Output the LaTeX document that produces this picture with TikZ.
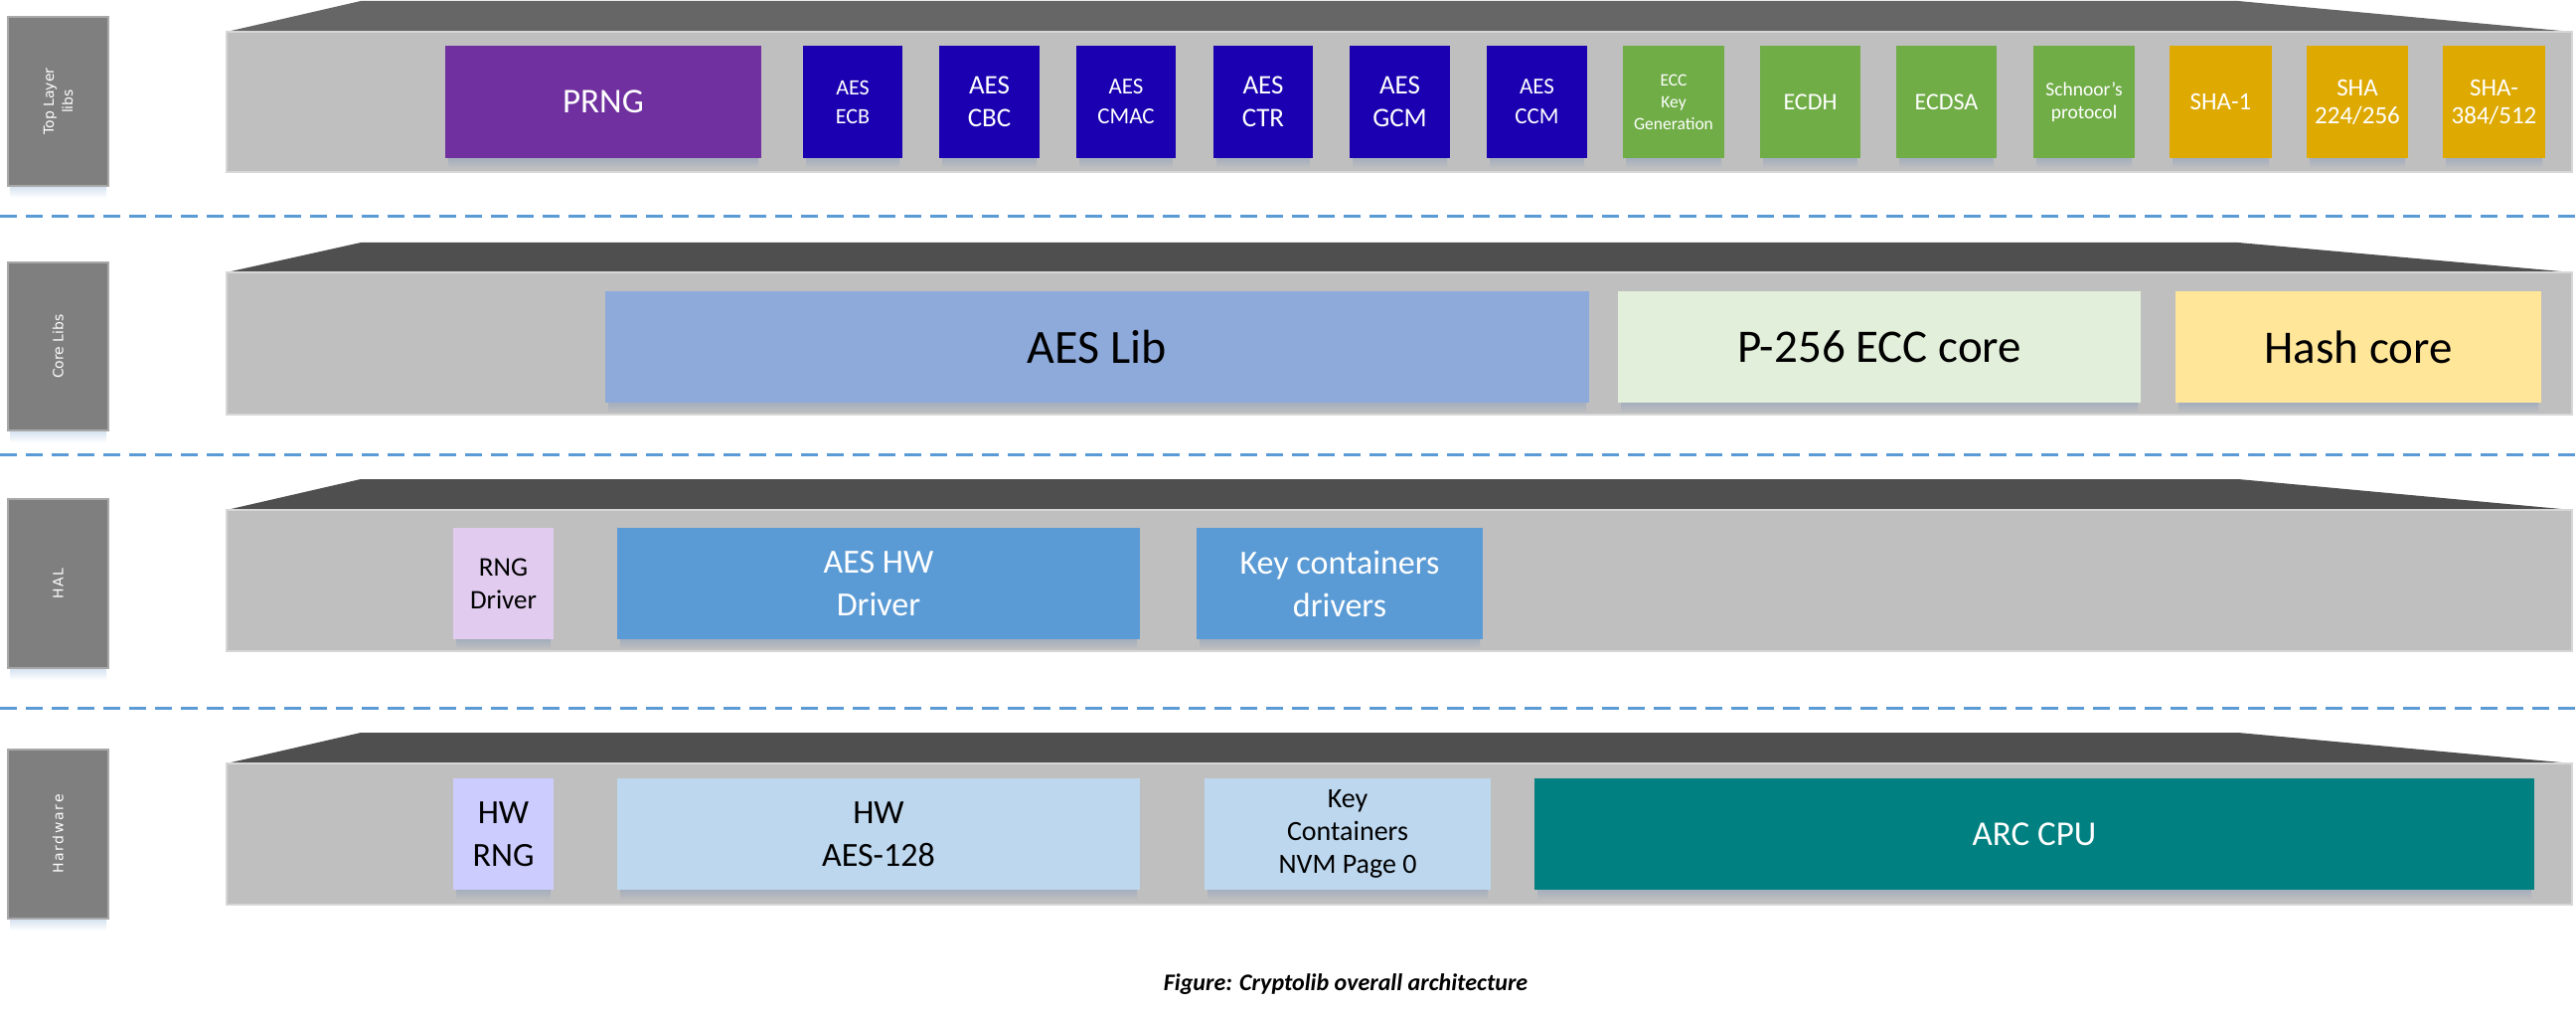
\documentclass[tikz,border=0pt]{standalone}
\usepackage{fontspec}
\setmainfont{Carlito}
\newfontfamily\lblfont{DejaVu Sans}
\definecolor{frontgray}{HTML}{BFBFBF}
\definecolor{edgegray}{HTML}{D6D6D6}
\definecolor{topdark}{HTML}{4F4F4F}
\definecolor{toplight}{HTML}{666666}
\definecolor{lblgray}{HTML}{7F7F7F}
\definecolor{lbledge}{HTML}{A8A8A8}
\definecolor{shadowc}{HTML}{A4AEBD}
\definecolor{lblshadow}{HTML}{D3E1EF}
\definecolor{dashblue}{HTML}{5B9BD5}
\definecolor{cPRNG}{HTML}{7030A0}
\definecolor{cAES}{HTML}{1A00B0}
\definecolor{cECC}{HTML}{70AD47}
\definecolor{cSHA}{HTML}{DEA900}
\definecolor{cAESLib}{HTML}{8EAADB}
\definecolor{cP256}{HTML}{E2EFDA}
\definecolor{cHash}{HTML}{FFE699}
\definecolor{cRNGD}{HTML}{E1CCF0}
\definecolor{cHWD}{HTML}{5B9BD5}
\definecolor{cHWRNG}{HTML}{CCCCFF}
\definecolor{cHWAES}{HTML}{BDD7EE}
\definecolor{cARC}{HTML}{008080}
\newcommand\fsz[2]{\fontsize{#1}{#2}\selectfont}
% layer: top-face y, front top y, front bottom y, top colour
\newcommand\layer[4]{%
  \fill[#4] (228,#2) -- (363,#1) -- (2252,#1) -- (2588,#2) -- cycle;
  \fill[frontgray, draw=edgegray, line width=1.5pt] (228,#2) rectangle (2588,#3);}
% cell: name, x1, y1, x2, y2, fill, style, text
\newcommand\cell[8]{%
  \shade[top color=shadowc, bottom color=frontgray] ({#2+3},#5) rectangle ({#4-3},{#5+10});
  \node[cellbox, fill=#6, minimum width={(#4-#2)*1pt}, minimum height={(#5-#3)*1pt}, #7]
    (#1) at ({(#2+#4)/2},{(#3+#5)/2}) {#8};}
% label box: name, y1, y2, text
\newcommand\lblbox[4]{%
  \shade[top color=lblshadow, bottom color=white] (10,#3) rectangle (107,{#3+12});
  \node[lblnode, minimum width={(#3-#2)*1pt}] (#1) at (58.5,{(#2+#3)/2}) {#4};}
\begin{document}
\begin{tikzpicture}[x=1pt,y=-1pt,
  cellbox/.style={inner sep=0pt, align=center, text=black},
  wt/.style={text=white},
  lblnode/.style={rotate=90, fill=lblgray, draw=lbledge, line width=1.5pt,
    minimum height=101pt, inner sep=0pt, align=center, text=white,
    font=\lblfont\fsz{14}{19}},
  dashline/.style={draw=dashblue, line width=3pt, dash pattern=on 17pt off 9pt}]
\useasboundingbox (0,0) rectangle (2592,1016);
\fill[white] (0,0) rectangle (2592,1016);

% layer labels
\lblbox{ltop}{17}{187}{Top Layer\\libs}
\lblbox{lcore}{264}{433}{Core Libs}
\lblbox{lhal}{502}{672}{\addfontfeature{LetterSpace=12}HAL}
\lblbox{lhw}{754}{924}{\addfontfeature{LetterSpace=12}Hardware}

% separators
\draw[dashline] (0,218) -- (2592,218);
\draw[dashline] (0,457) -- (2592,457);
\draw[dashline] (0,712) -- (2592,712);

% layers
\layer{1}{32}{173}{toplight}
\layer{244}{274}{417}{topdark}
\layer{482}{513}{655}{topdark}
\layer{737}{768}{910}{topdark}

% top layer libs
\cell{prng}{448}{46}{766}{159}{cPRNG}{wt,font=\fsz{35}{42}}{PRNG}
\cell{ecb}{808}{46}{908}{159}{cAES}{wt,font=\fsz{22}{29}}{AES\\ECB}
\cell{cbc}{945}{46}{1046}{159}{cAES}{wt,font=\fsz{27}{33}}{AES\\CBC}
\cell{cmac}{1083}{46}{1183}{159}{cAES}{wt,font=\fsz{23}{30}}{AES\\CMAC}
\cell{ctr}{1221}{46}{1321}{159}{cAES}{wt,font=\fsz{27}{33}}{AES\\CTR}
\cell{gcm}{1358}{46}{1459}{159}{cAES}{wt,font=\fsz{27}{33}}{AES\\GCM}
\cell{ccm}{1496}{46}{1597}{159}{cAES}{wt,font=\fsz{23}{30}}{AES\\CCM}
\cell{ecckg}{1633}{46}{1735}{159}{cECC}{wt,font=\fsz{17.5}{22}}{ECC\\Key\\Generation}
\cell{ecdh}{1771}{46}{1872}{159}{cECC}{wt,font=\fsz{24}{29}}{ECDH}
\cell{ecdsa}{1908}{46}{2009}{159}{cECC}{wt,font=\fsz{24}{29}}{ECDSA}
\cell{schnorr}{2046}{46}{2148}{159}{cECC}{wt,font=\fsz{19.5}{23}}{Schnoor’s\\protocol}
\cell{shaone}{2183}{46}{2286}{159}{cSHA}{wt,font=\fsz{25}{28}}{SHA-1}
\cell{shatwo}{2321}{46}{2423}{159}{cSHA}{wt,font=\fsz{25}{28}}{SHA\\224/256}
\cell{shathree}{2458}{46}{2561}{159}{cSHA}{wt,font=\fsz{25}{28}}{SHA-\\384/512}

% core libs
\cell{aeslib}{609}{293}{1599}{405}{cAESLib}{font=\fsz{48}{55}}{AES Lib}
\cell{ecccore}{1628}{293}{2154}{405}{cP256}{font=\fsz{47}{55}}{P-256 ECC core}
\cell{hashcore}{2189}{293}{2557}{405}{cHash}{font=\fsz{47}{55}}{Hash core}

% HAL
\cell{rngdrv}{456}{531}{557}{643}{cRNGD}{font=\fsz{27}{33}}{RNG\\Driver}
\cell{aesdrv}{621}{531}{1147}{643}{cHWD}{wt,font=\fsz{34}{43}}{AES HW\\Driver}
\cell{keydrv}{1204}{531}{1492}{643}{cHWD}{wt,font=\fsz{34}{43}}{Key containers\\drivers}

% hardware
\cell{hwrng}{456}{783}{557}{895}{cHWRNG}{font=\fsz{34}{43}}{HW\\RNG}
\cell{hwaes}{621}{783}{1147}{895}{cHWAES}{font=\fsz{34}{43}}{HW\\AES-128}
\cell{keynvm}{1212}{783}{1500}{895}{cHWAES}{font=\fsz{28}{33}}{Key\\Containers\\NVM Page 0}
\cell{arccpu}{1544}{783}{2550}{895}{cARC}{wt,font=\fsz{35}{42}}{ARC CPU}

% caption
\node[font=\bfseries\itshape\fsz{24}{28}, inner sep=0pt] (caption) at (1354,990)
  {Figure: Cryptolib overall architecture};
\end{tikzpicture}
\end{document}
